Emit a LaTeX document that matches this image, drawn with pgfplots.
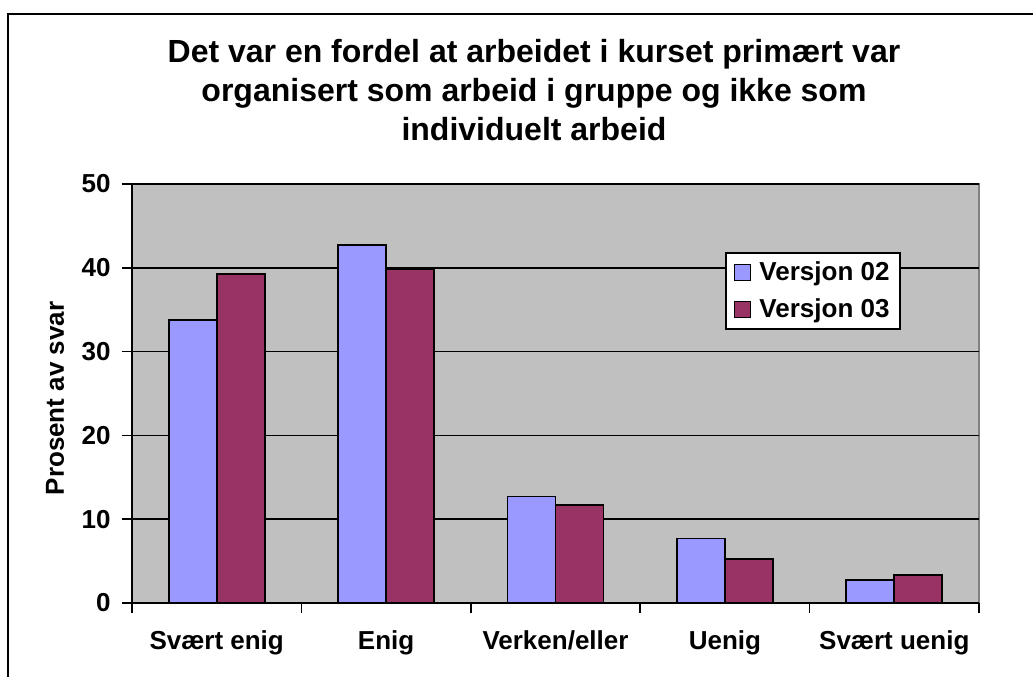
\documentclass[border=0pt]{standalone}
\usepackage{pgfplots}
\pgfplotsset{compat=1.18}
\usepackage{fontspec}
\setmainfont{Liberation Sans}
\definecolor{plotbg}{HTML}{C0C0C0}
\definecolor{vOne}{HTML}{9999FF}
\definecolor{vTwo}{HTML}{993366}
\definecolor{frameg}{HTML}{808080}
\begin{document}
\begin{tikzpicture}
\path[use as bounding box] (0,0) rectangle (774.75pt,507.75pt);
\draw[line width=1.5pt] (6pt,-5pt) -- (6pt,497.25pt) -- (780pt,497.25pt);
\node[font=\fontsize{24}{29}\selectfont\bfseries, anchor=base] at (400.5pt,460.5pt) {Det var en fordel at arbeidet i kurset primært var};
\node[font=\fontsize{24}{29}\selectfont\bfseries, anchor=base] at (400.5pt,431.25pt) {organisert som arbeid i gruppe og ikke som};
\node[font=\fontsize{24}{29}\selectfont\bfseries, anchor=base] at (400.5pt,402pt) {individuelt arbeid};
\begin{axis}[
  at={(99pt,55.5pt)}, anchor=south west,
  scale only axis, width=635.25pt, height=314.25pt,
  xmin=-0.5, xmax=4.5, ymin=0, ymax=50,
  ybar=0pt, bar width=36pt,
  axis x line*=bottom, axis y line*=left,
  axis line style={black, line width=1.3pt, -},
  axis background/.style={fill=plotbg, draw=frameg, line width=1.6pt},
  tick align=outside, major tick length=7.5pt,
  every tick/.style={black, line width=1.3pt},
  xtick={-0.5,0.5,1.5,2.5,3.5,4.5},
  x tick label as interval,
  xticklabels={Svært enig, Enig, Verken/eller, Uenig, Svært uenig},
  ytick={0,10,20,30,40,50},
  ymajorgrids,
  major grid style={black, line width=1.2pt},
  /pgf/number format/assume math mode=true,
  ticklabel style={font=\fontsize{19.5}{23}\selectfont\bfseries},
  xticklabel style={yshift=-10pt},
  yticklabel style={xshift=-5pt},
  ylabel={Prosent av svar},
  every axis y label/.style={at={(rel axis cs:0,0.5)}, xshift=-57.75pt, yshift=-3.75pt, rotate=90, anchor=center, font=\fontsize{19.5}{23}\selectfont\bfseries},
  legend style={at={(0.700,0.838)}, anchor=north west, draw=black, line width=1.3pt, fill=white,
    font=\fontsize{19.5}{23}\selectfont\bfseries, inner xsep=6pt, inner ysep=5pt, row sep=8pt,
    nodes={inner sep=2pt}},
  legend cell align=left,
  legend image code/.code={\draw[#1, line width=1.2pt] (0pt,-6pt) rectangle (12pt,6pt); \path (16pt,0pt);},
]
\addplot[fill=vOne, draw=black, line width=1.4pt] coordinates {(0,33.8) (1,42.7) (2,12.7) (3,7.7) (4,2.7)};
\addplot[fill=vTwo, draw=black, line width=1.4pt] coordinates {(0,39.3) (1,39.8) (2,11.7) (3,5.3) (4,3.3)};
\legend{Versjon 02, Versjon 03}
\end{axis}
\end{tikzpicture}
\end{document}
